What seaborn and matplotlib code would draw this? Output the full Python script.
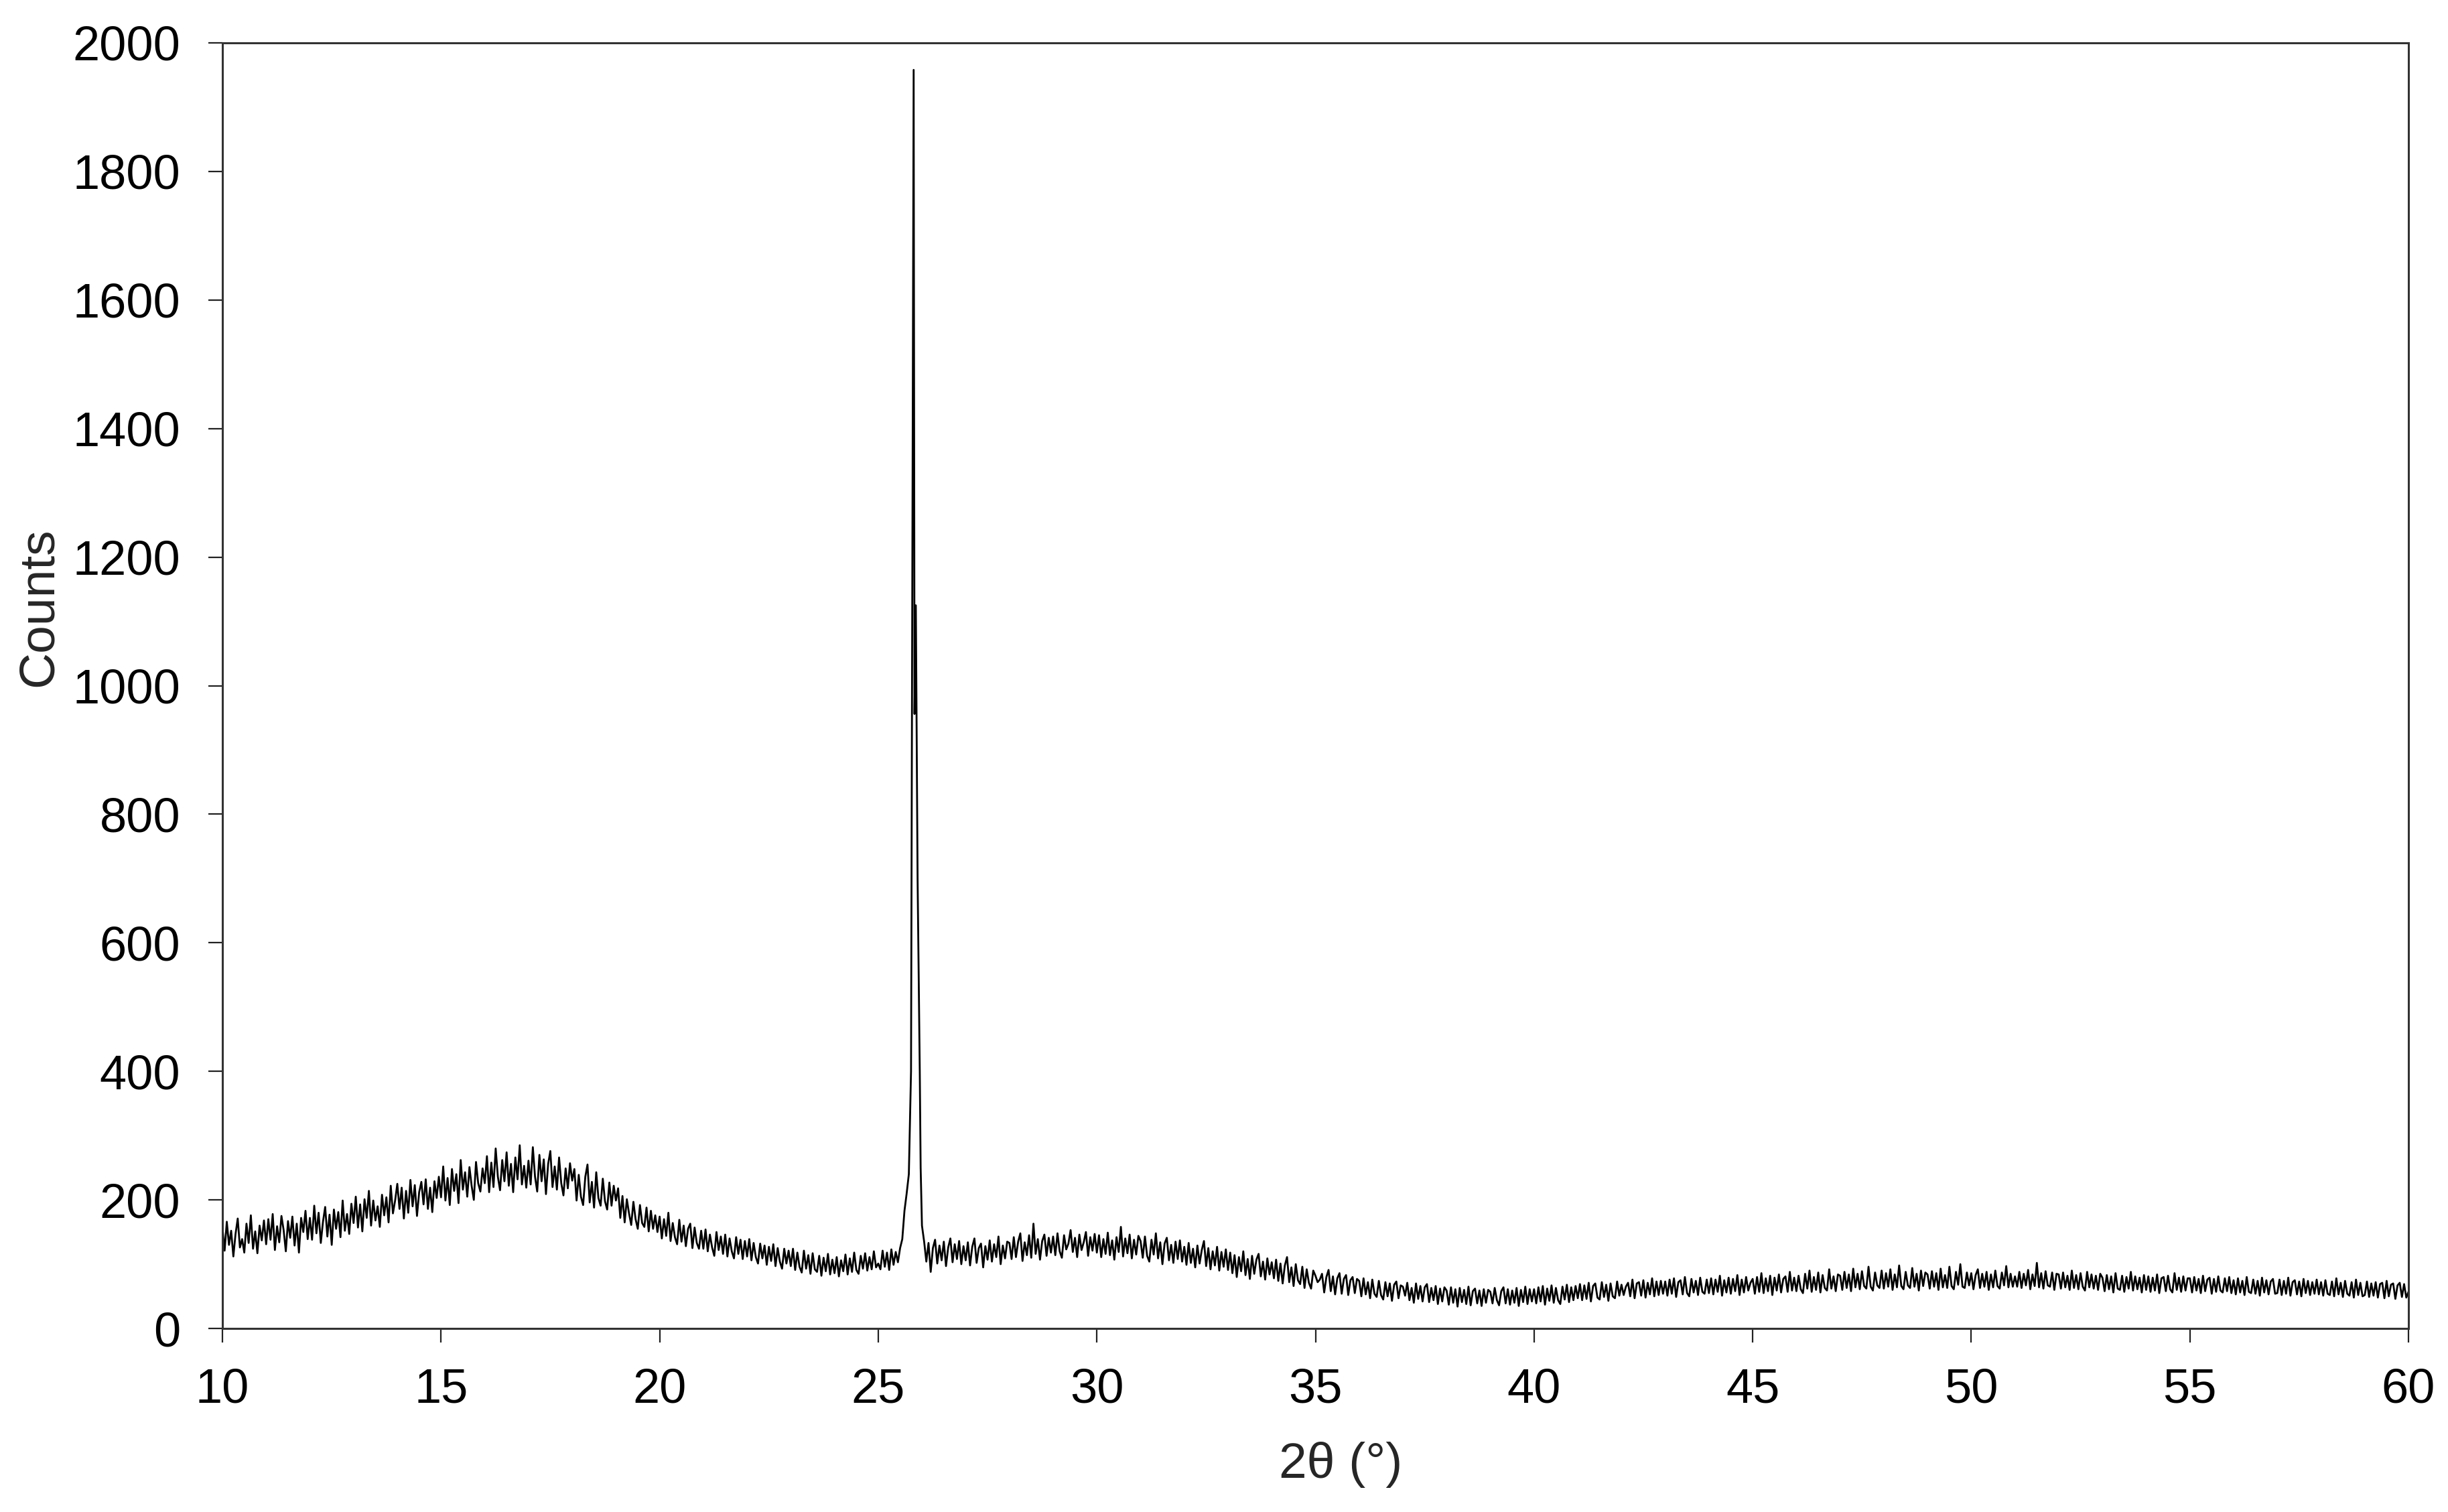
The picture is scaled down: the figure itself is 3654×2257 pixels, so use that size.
import numpy as np
import pandas as pd
import seaborn as sns
import matplotlib.pyplot as plt

# ---------------- data ----------------
# Baseline, 10.00 .. 25.50 deg, step 0.05 deg
counts_low = [
    158,121,166,130,152,112,147,171,126,139,118,163,133,176,124,151,117,160,137,168,
    131,170,138,178,122,159,134,175,153,120,167,141,174,129,163,118,172,150,183,139,
    172,138,191,148,180,133,166,189,143,177,130,185,155,181,142,199,152,178,147,194,
    164,205,157,193,151,201,172,214,160,199,168,190,158,208,176,204,165,222,179,199,
    225,186,219,171,214,180,231,190,223,175,212,228,193,232,186,219,181,229,203,236,
    204,252,199,234,192,248,214,240,195,262,216,243,205,251,222,200,259,226,213,249,
    226,268,212,258,220,280,236,215,262,229,274,222,256,212,266,232,285,224,253,219,
    261,224,282,236,213,270,229,263,209,256,276,220,252,216,266,226,207,249,218,257,
    230,248,199,239,205,192,236,255,196,228,188,243,203,191,233,198,185,227,191,222,
    199,218,172,206,165,201,179,161,197,170,155,192,164,158,188,151,183,155,176,150,
    174,140,170,144,180,136,164,142,131,169,135,160,128,155,163,125,157,133,124,152,
    124,154,120,146,126,113,150,122,143,116,146,112,140,120,109,142,116,138,108,136,
    112,139,106,133,111,101,132,109,129,99,127,105,131,97,125,104,93,124,101,121,
    97,124,91,118,96,87,121,93,114,85,117,92,88,113,82,110,89,116,84,107,
    86,111,81,106,89,115,84,109,88,118,91,85,113,93,117,90,111,92,120,95,
    101,92,121,96,118,91,123,99,119,103,125,
]

# Main reflection near 25.8 deg
peak_theta = [25.55, 25.60, 25.65, 25.70, 25.75, 25.81, 25.83, 25.86, 25.90, 25.95, 25.97, 26.00, 26.05]
peak_counts = [139, 183, 210, 240, 400, 1958, 956, 1125, 700, 400, 250, 160, 135]

# Baseline, 26.10 .. 60.00 deg, step 0.05 deg
counts_high = [
    104,133,88,125,138,101,129,106,135,97,126,140,103,131,108,136,100,128,
    106,134,98,127,140,102,125,132,95,128,107,137,104,131,111,143,100,129,109,135,
    133,108,142,111,135,148,105,134,114,145,110,163,116,139,107,136,146,113,141,118,
    143,114,148,120,110,145,123,132,153,119,141,111,146,122,134,150,113,142,121,147,
    118,145,111,139,116,149,114,137,107,142,119,158,112,140,117,146,109,138,115,144,
    136,110,143,113,104,138,115,148,109,134,100,132,141,106,130,102,135,108,137,104,
    127,99,133,102,124,95,129,101,122,136,97,125,92,120,98,127,90,119,96,123,
    91,118,86,114,80,111,89,120,83,108,77,113,85,107,116,81,104,76,109,84,
    103,78,107,74,101,70,98,111,72,95,66,100,75,69,96,63,92,71,62,90,
    82,72,76,85,56,80,91,58,81,53,78,86,54,77,83,52,75,80,55,77,
    74,50,78,53,72,47,76,54,49,74,52,45,72,50,70,43,68,73,47,67,
    65,51,71,44,63,40,70,46,66,42,64,69,41,63,44,66,38,62,42,64,
    59,37,64,40,61,34,63,41,60,38,65,36,58,62,39,59,35,61,40,60,
    57,39,63,44,36,58,64,39,61,37,59,40,63,35,60,41,65,38,61,42,
    61,39,64,42,66,37,62,43,67,40,63,44,38,65,45,68,41,64,44,66,
    47,69,44,67,46,71,42,66,70,48,45,72,49,68,43,70,50,47,73,51,
    68,52,65,71,50,76,47,70,72,51,75,48,71,53,78,50,73,52,74,54,
    73,51,76,54,78,49,72,75,53,80,55,50,77,56,74,52,79,57,54,76,
    55,78,53,76,57,82,51,75,56,79,54,77,58,83,52,76,56,80,59,71,
    77,54,80,57,86,55,78,58,82,52,79,59,84,56,77,81,57,88,59,79,
    58,82,61,55,85,62,90,57,80,60,87,56,83,63,59,92,62,81,58,84,
    82,60,88,63,84,58,93,64,85,61,89,66,62,96,65,59,87,67,63,90,
    62,86,65,92,60,84,64,98,66,61,88,67,63,94,65,85,59,90,66,87,
    84,62,89,65,86,60,93,64,83,63,96,66,61,88,68,100,65,63,87,67,
    86,61,83,92,63,85,65,88,60,84,64,90,66,62,87,67,97,64,85,65,
    81,65,88,63,85,67,91,61,84,66,102,64,86,62,89,67,65,87,60,85,
    84,62,87,64,82,60,90,63,83,61,86,65,59,88,64,84,62,82,60,85,
    79,58,83,61,81,56,86,62,60,82,57,80,62,88,59,81,61,79,56,83,
    60,81,57,79,59,84,55,78,80,58,82,61,56,86,60,79,57,81,59,78,
    78,56,80,59,77,55,82,58,76,79,54,77,57,81,59,56,78,58,80,55,
    75,53,78,56,74,52,80,57,55,76,54,74,51,79,56,75,53,73,77,54,
    55,76,52,74,54,79,51,72,75,53,73,50,77,55,74,52,72,54,76,53,
    72,51,75,54,52,73,50,78,53,71,49,74,54,51,72,48,76,52,71,50,
    52,73,49,70,51,72,48,69,71,47,74,50,68,70,46,67,71,49,69,48,
    57,
]

x_ticks = [10, 15, 20, 25, 30, 35, 40, 45, 50, 55, 60]
y_ticks = [0, 200, 400, 600, 800, 1000, 1200, 1400, 1600, 1800, 2000]

# ---------------- build table ----------------
theta_low = np.round(10.0 + 0.05 * np.arange(len(counts_low)), 2)
theta_high = np.round(26.10 + 0.05 * np.arange(len(counts_high)), 2)
df = pd.DataFrame({
    "two_theta": np.concatenate([theta_low, peak_theta, theta_high]),
    "counts": np.concatenate([counts_low, peak_counts, counts_high]),
}).sort_values("two_theta")

# ---------------- style ----------------
sns.set_style("ticks")
plt.rcParams['font.family'] = ['Liberation Sans', 'DejaVu Sans']

W, H = 3654, 2257
fig = plt.figure(figsize=(W / 100, H / 100), dpi=100)
L, R, T, B = 332, 3595, 64, 1983
ax = fig.add_axes([L / W, 1 - B / H, (R - L) / W, (B - T) / H])

sns.lineplot(data=df, x="two_theta", y="counts", ax=ax, color="black",
             linewidth=2.0, estimator=None, sort=True)

ax.set_xlim(10, 60)
ax.set_ylim(0, 2000)
ax.set_xticks(x_ticks)
ax.set_yticks(y_ticks)

for s in ax.spines.values():
    s.set_visible(True)
    s.set_color("#333333")
    s.set_linewidth(2.2)

ax.tick_params(axis="both", direction="out", length=15, width=1.6,
               color="#222222", labelsize=52, labelcolor="black")
ax.tick_params(axis="x", pad=27, top=False)
ax.tick_params(axis="y", pad=30, right=False)

ax.set_xlabel("2θ (°)", fontsize=54)
ax.set_ylabel("Counts", fontsize=54)
ax.xaxis.label.set_va("baseline")
ax.xaxis.set_label_coords((2001 - L) / (R - L), -(2206 - B) / (B - T))
ax.yaxis.label.set_va("baseline")
ax.yaxis.set_label_coords(-(L - 78) / (R - L), 1 - (906 - T) / (B - T))

fig.savefig("out.png", dpi=100, facecolor="white")
